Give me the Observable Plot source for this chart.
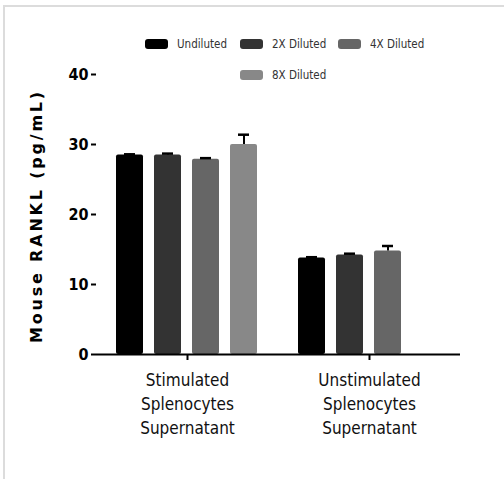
<!DOCTYPE html>
<html>
<head>
<meta charset="utf-8">
<script src="https://cdn.jsdelivr.net/npm/d3@7"></script>
<script src="https://cdn.jsdelivr.net/npm/@observablehq/plot@0.6"></script>
<style>
  body { margin: 0; background: #fff; }
  #wrap { position: relative; width: 504px; height: 479px; overflow: hidden; background: #fff; }
  #frame { position: absolute; left: 3px; top: 5px; right: -5px; bottom: -5px; border-left: 2px solid #dcdcdc; border-top: 2px solid #dcdcdc; }
  #legend { position: absolute; left: 0; top: 0; width: 504px; height: 90px; font-family: "DejaVu Sans", sans-serif; font-stretch: condensed; font-size: 11.5px; color: #333; }
  .item { position: absolute; display: flex; align-items: center; white-space: nowrap; }
  .sw { width: 23px; height: 10px; border-radius: 3px; margin-right: 9px; }
  #ylab { position: absolute; left: 36px; top: 216px; transform: translate(-50%, -50%) rotate(-90deg); font-family: "DejaVu Sans", Verdana, sans-serif; font-weight: bold; font-size: 16px; letter-spacing: 2.8px; white-space: nowrap; color: #000; }
  #chart { position: absolute; left: 0; top: 0; }
  #chart svg text { font-stretch: condensed; }
</style>
</head>
<body>
<div id="wrap">
  <div id="frame"></div>
  <div id="chart"></div>
  <div id="legend"></div>
  <div id="ylab">Mouse RANKL (pg/mL)</div>
</div>
<script>
const groups = ["Stimulated Splenocytes Supernatant", "Unstimulated Splenocytes Supernatant"];
const series = ["Undiluted", "2X Diluted", "4X Diluted", "8X Diluted"];
const colors = ["#000000", "#333333", "#666666", "#888888"];
const stimulatedValues = [28.5, 28.5, 27.9, 30.0];
const stimulatedErrors = [0.1, 0.2, 0.15, 1.4];
const unstimulatedValues = [13.8, 14.2, 14.8];
const unstimulatedErrors = [0.1, 0.2, 0.7];
const yTicks = [0, 10, 20, 30, 40];

const data = [];
stimulatedValues.forEach((v, i) => data.push({group: groups[0], series: series[i], value: v, err: stimulatedErrors[i]}));
unstimulatedValues.forEach((v, i) => data.push({group: groups[1], series: series[i], value: v, err: unstimulatedErrors[i]}));

// legend
const legend = document.getElementById("legend");
const legendPos = [[145, 45], [240, 45], [338, 45], [240, 76]];
series.forEach((s, i) => {
  const it = document.createElement("div");
  it.className = "item";
  it.style.left = legendPos[i][0] + "px";
  it.style.top = (legendPos[i][1] - 8) + "px";
  it.innerHTML = `<div class="sw" style="background:${colors[i]}"></div><span>${s}</span>`;
  legend.appendChild(it);
});

const font = "'DejaVu Sans', sans-serif";
const chart = Plot.plot({
  width: 504,
  height: 479,
  marginLeft: 96,
  marginRight: 44,
  marginTop: 74,
  marginBottom: 125,
  style: {background: "transparent", fontFamily: font, color: "#000"},
  fx: {domain: groups, padding: 0, label: null},
  x: {domain: series, paddingInner: 0.28, paddingOuter: 0.5, axis: null},
  y: {domain: [0, 40], label: null},
  color: {domain: series, range: colors},
  marks: [
    Plot.barY(data, {fx: "group", x: "series", y: "value", fill: "series", rx: 2}),
    Plot.ruleX(data, {fx: "group", x: "series", y1: "value", y2: d => d.value + d.err, stroke: "#000", strokeWidth: 2}),
    Plot.tickY(data, {fx: "group", x: "series", y: d => d.value + d.err, stroke: "#000", strokeWidth: 2.5, inset: 8}),
    Plot.ruleY([0], {stroke: "#000", strokeWidth: 2}),
    Plot.axisY({ticks: yTicks, tickSize: 5, tickPadding: 3, strokeWidth: 2, fontSize: 16, fontWeight: "bold", label: null, line: true}),
    Plot.axisFx({anchor: "bottom", tickSize: 6, tickPadding: 8, strokeWidth: 2, fontSize: 17, lineHeight: 1.42, label: null, fill: "#111",
      tickFormat: d => d.split(" ").join("\n")})
  ]
});
document.getElementById("chart").appendChild(chart);
</script>
</body>
</html>
